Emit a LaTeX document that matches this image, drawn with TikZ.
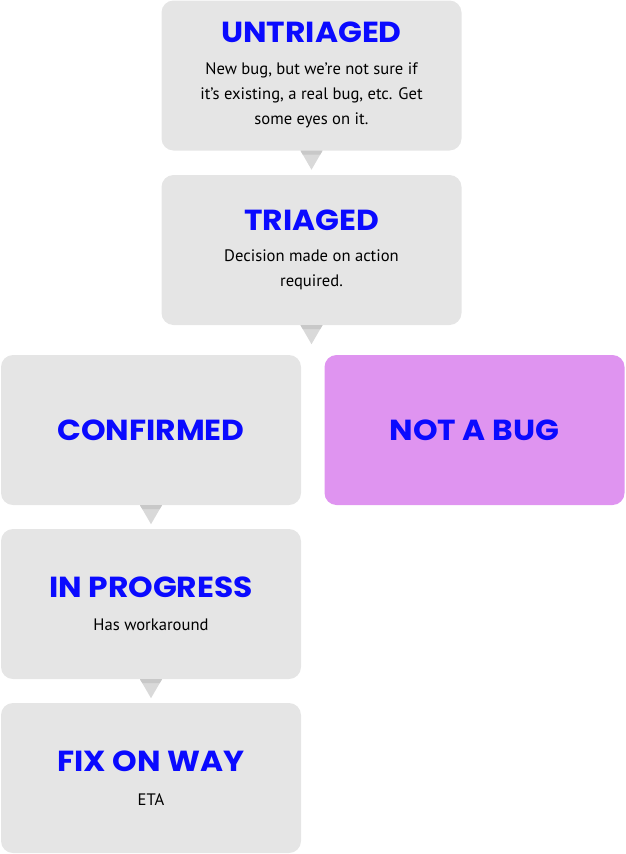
\documentclass[tikz,border=0pt]{standalone}
\usepackage{fontspec}
\setmainfont{PT Sans}
\newfontfamily\titlefont{Poppins}[FakeStretch=1.08]
\definecolor{boxgray}{HTML}{E5E5E5}
\definecolor{trigray}{HTML}{D9D9D9}
\definecolor{bandgray}{HTML}{C8C8C8}
\definecolor{nabpurple}{HTML}{DF94F0}
\definecolor{titleblue}{HTML}{0A0AFF}
\tikzset{
  statebox/.style={minimum width=300pt, minimum height=150pt, inner sep=0pt,
    rounded corners=12pt, fill=boxgray},
  ttl/.style={anchor=base, inner sep=0pt, text=titleblue,
    font=\titlefont\bfseries\fontsize{29}{30}\selectfont},
  body/.style={anchor=base, inner sep=0pt, align=center, text=black,
    font=\fontsize{16.6}{25}\selectfont},
}
\newcommand{\pointer}[1]{%
  \fill[trigray] ([xshift=-11pt]#1.south) -- ([xshift=11pt]#1.south) -- ([yshift=-19pt]#1.south) -- cycle;
  \fill[bandgray] ([xshift=-11pt]#1.south) -- ([xshift=11pt]#1.south) -- ([xshift=8.7pt,yshift=-4pt]#1.south) -- ([xshift=-8.7pt,yshift=-4pt]#1.south) -- cycle;
}
\begin{document}
\begin{tikzpicture}[x=1pt,y=-1pt]
\useasboundingbox (0,0) rectangle (625,854);
\node[statebox] (untri) at (311.5,75.5) {};
\node[statebox] (tri) at (311.5,250) {};
\node[statebox] (conf) at (151,430) {};
\node[statebox, fill=nabpurple] (nab) at (474.5,430) {};
\node[statebox] (prog) at (151,604) {};
\node[statebox] (fix) at (151,778) {};
\pointer{untri}
\pointer{tri}
\pointer{conf}
\pointer{prog}
\node[ttl] (untriT) at (311.5,42.7) {UNTRIAGED};
\node[body] (untriB) at (311.5,124) {New bug, but we’re not sure if\\it’s existing, a real bug, etc. Get\\some eyes on it.};
\node[ttl] (triT) at (311.5,230.7) {TRIAGED};
\node[body] (triB) at (311.5,286.7) {Decision made on action\\required.};
\node[ttl] (confT) at (151,440.7) {CONFIRMED};
\node[ttl] (nabT) at (474.5,440.7) {NOT A BUG};
\node[ttl] (progT) at (151,597.7) {IN PROGRESS};
\node[body] (progB) at (151,630.7) {Has workaround};
\node[ttl] (fixT) at (151,771.7) {FIX ON WAY};
\node[body] (fixB) at (151,805) {ETA};
\end{tikzpicture}
\end{document}
